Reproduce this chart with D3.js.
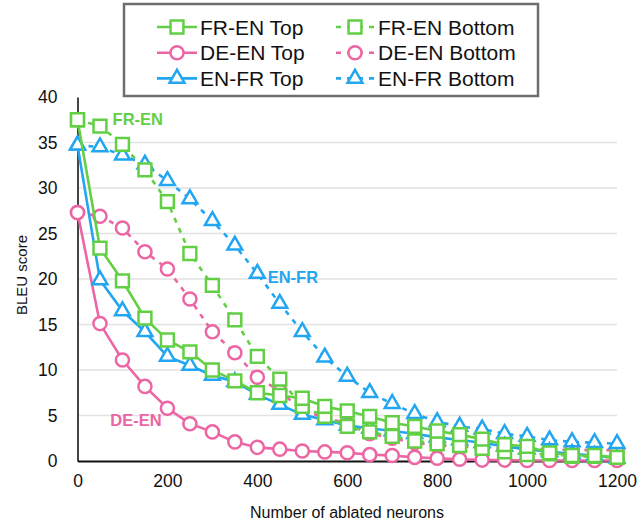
<!DOCTYPE html>
<html>
<head>
<meta charset="utf-8">
<script src="https://cdn.jsdelivr.net/npm/d3@7"></script>
<style>
  body { margin: 0; background: #fff; }
  text { font-family: "Liberation Sans", Arial, sans-serif; }
</style>
</head>
<body>
<div id="chart"></div>
<script>
// number of ablated neurons on the x axis
const neurons = [0, 50, 100, 150, 200, 250, 300, 350, 400, 450, 500, 550, 600,
                 650, 700, 750, 800, 850, 900, 950, 1000, 1050, 1100, 1150, 1200]

// BLEU scores
const frEnTop    = [37.5, 23.4, 19.8, 15.7, 13.3, 12.0, 10.0, 8.8, 7.5, 7.2, 6.9, 6.0, 5.5,
                    4.9, 4.2, 3.8, 3.3, 2.9, 2.4, 1.8, 1.6, 0.9, 0.6, 0.6, 0.4]
const frEnBottom = [37.5, 36.8, 34.8, 32.0, 28.5, 22.8, 19.3, 15.5, 11.5, 9.0, 6.0, 4.9, 3.8,
                    3.2, 2.7, 2.2, 1.9, 1.7, 1.4, 1.0, 0.7, 0.8, 0.5, 0.5, 0.4]
const deEnTop    = [27.3, 15.1, 11.1, 8.2, 5.8, 4.1, 3.2, 2.1, 1.5, 1.3, 1.1, 1.0, 0.9,
                    0.7, 0.6, 0.4, 0.3, 0.2, 0.1, 0.1, 0.05, 0.05, 0.05, 0.05, 0.05]
const deEnBottom = [27.3, 26.9, 25.6, 23.0, 21.1, 17.8, 14.2, 11.9, 9.2, 7.7, 5.5, 4.8, 4.1,
                    3.0, 2.5, 2.0, 1.7, 1.6, 1.5, 1.4, 1.3, 1.3, 1.2, 1.2, 1.2]
const enFrTop    = [34.7, 19.9, 16.5, 14.2, 11.5, 10.5, 9.4, 8.7, 7.3, 6.2, 5.1, 4.5, 3.9,
                    3.6, 3.3, 3.0, 2.6, 2.3, 2.0, 1.6, 1.3, 1.0, 0.8, 0.6, 0.3]
const enFrBottom = [34.7, 34.5, 33.6, 32.6, 30.8, 28.8, 26.4, 23.7, 20.6, 17.3, 14.2, 11.4, 9.3,
                    7.5, 6.3, 5.2, 4.3, 3.8, 3.5, 3.0, 2.7, 2.3, 2.1, 2.0, 1.9]

const xTicks = [0, 200, 400, 600, 800, 1000, 1200]
const yTicks = [0, 5, 10, 15, 20, 25, 30, 35, 40]

const green = '#63cf45', pink = '#ec66a4', blue = '#22a6f2'

// draw order: pink, blue, green (green ends up on top)
const series = [
    { name: 'DE-EN Bottom', values: deEnBottom, color: pink, shape: d3.symbolCircle, dashed: true },
    { name: 'DE-EN Top', values: deEnTop, color: pink, shape: d3.symbolCircle, dashed: false },
    { name: 'EN-FR Bottom', values: enFrBottom, color: blue, shape: d3.symbolTriangle, dashed: true },
    { name: 'EN-FR Top', values: enFrTop, color: blue, shape: d3.symbolTriangle, dashed: false },
    { name: 'FR-EN Bottom', values: frEnBottom, color: green, shape: d3.symbolSquare, dashed: true },
    { name: 'FR-EN Top', values: frEnTop, color: green, shape: d3.symbolSquare, dashed: false }
]
const legendOrder = ['FR-EN Top', 'FR-EN Bottom', 'DE-EN Top', 'DE-EN Bottom', 'EN-FR Top', 'EN-FR Bottom']

const width = 637, height = 525

const x = d3.scaleLinear().domain([0, 1200]).range([77.5, 617])
const y = d3.scaleLinear().domain([0, 40]).range([461, 97])

const svg = d3.select('#chart').append('svg')
    .attr('width', width)
    .attr('height', height)

const sym = (shape) => d3.symbol().type(shape).size(
    shape === d3.symbolCircle ? 135 : shape === d3.symbolSquare ? 165 : 95)()

// gridlines
svg.append('g')
    .selectAll('line')
    .data(yTicks.filter(t => t > 0 && t < 40))
    .enter().append('line')
    .attr('x1', x(0)).attr('x2', x(1200))
    .attr('y1', d => y(d)).attr('y2', d => y(d))
    .attr('stroke', '#e2e2e2')
    .attr('stroke-width', 1.5)

// axes
const yAxis = svg.append('g')
    .attr('transform', `translate(${x(0)},0)`)
    .call(d3.axisLeft(y).tickValues(yTicks).tickSize(0).tickPadding(20))
yAxis.select('.domain').attr('stroke', '#444').attr('stroke-width', 2)
yAxis.selectAll('text').attr('font-size', 17.5).attr('fill', '#111')
    .style('font-family', '"Liberation Sans", Arial, sans-serif')

const xAxis = svg.append('g')
    .attr('transform', `translate(0,${y(0)})`)
    .call(d3.axisBottom(x).tickValues(xTicks).tickFormat(d3.format('d')).tickSize(0).tickPadding(14))
xAxis.select('.domain').attr('stroke', '#111').attr('stroke-width', 2)
xAxis.selectAll('text').attr('font-size', 17.5).attr('fill', '#111')
    .style('font-family', '"Liberation Sans", Arial, sans-serif')

// axis titles
svg.append('text')
    .attr('x', 347).attr('y', 518)
    .attr('text-anchor', 'middle')
    .attr('font-size', 16)
    .attr('fill', '#111')
    .text('Number of ablated neurons')

svg.append('text')
    .attr('transform', 'translate(27,275) rotate(-90)')
    .attr('text-anchor', 'middle')
    .attr('font-size', 15)
    .attr('fill', '#111')
    .text('BLEU score')

// lines and markers
const line = d3.line()
    .x((d, i) => x(neurons[i]))
    .y(d => y(d))

series.forEach(s => {
    const g = svg.append('g')
    g.append('path')
        .datum(s.values)
        .attr('d', line)
        .attr('fill', 'none')
        .attr('stroke', s.color)
        .attr('stroke-width', 2.6)
        .attr('stroke-dasharray', s.dashed ? '5,6' : null)
    g.selectAll('path.mark')
        .data(s.values)
        .enter().append('path')
        .attr('class', 'mark')
        .attr('d', sym(s.shape))
        .attr('transform', (d, i) => `translate(${x(neurons[i])},${y(d)})`)
        .attr('fill', '#fff')
        .attr('stroke', s.color)
        .attr('stroke-width', 2.5)
})

// inline labels
const labels = [
    { text: 'FR-EN', color: green, xv: 78, yv: 36.9 },
    { text: 'EN-FR', color: blue, xv: 423, yv: 19.6 },
    { text: 'DE-EN', color: pink, xv: 73, yv: 3.8 }
]
svg.selectAll('.lbl')
    .data(labels)
    .enter().append('text')
    .attr('class', 'lbl')
    .attr('x', d => x(d.xv))
    .attr('y', d => y(d.yv))
    .attr('font-size', 16.5)
    .attr('font-weight', 'bold')
    .attr('fill', d => d.color)
    .text(d => d.text)

// legend
const legend = svg.append('g')
legend.append('rect')
    .attr('x', 124).attr('y', 4)
    .attr('width', 414).attr('height', 92)
    .attr('fill', '#fff')
    .attr('stroke', '#6e6e6e')
    .attr('stroke-width', 2.5)

const items = legend.selectAll('.legend')
    .data(legendOrder.map(n => series.find(s => s.name === n)))
    .enter().append('g')
    .attr('class', 'legend')
    .attr('transform', (d, i) => `translate(${i % 2 === 0 ? 157 : 335}, ${27 + Math.floor(i / 2) * 25.7})`)

items.append('line')
    .attr('x1', 0).attr('x2', 40)
    .attr('stroke', d => d.color)
    .attr('stroke-width', 2.6)
    .attr('stroke-dasharray', d => d.dashed ? '5,6' : null)
    .attr('stroke-dashoffset', d => d.dashed ? -1 : null)
items.append('path')
    .attr('d', d => sym(d.shape))
    .attr('transform', 'translate(20,0)')
    .attr('fill', '#fff')
    .attr('stroke', d => d.color)
    .attr('stroke-width', 2.5)
items.append('text')
    .attr('x', 43)
    .attr('y', 0)
    .attr('dominant-baseline', 'central')
    .attr('font-size', 21)
    .attr('fill', '#111')
    .text(d => d.name)
</script>
</body>
</html>
